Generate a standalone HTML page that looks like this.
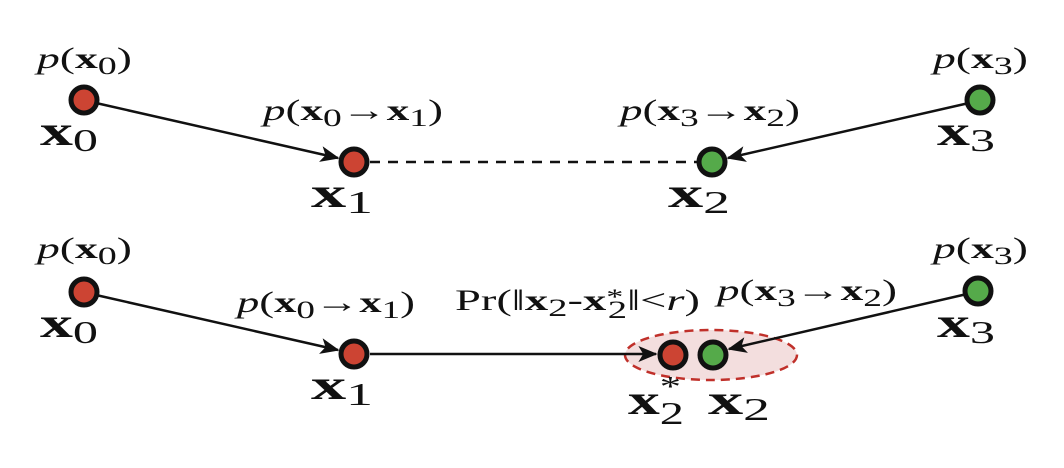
<!DOCTYPE html>
<html><head><meta charset="utf-8"><style>
html,body{margin:0;padding:0;background:#fff;}
svg{display:block}
text{font-family:"Liberation Serif","DejaVu Serif",serif;fill:#111;font-weight:normal;}
.l{font-size:30px}
.b{font-weight:bold}
.i{font-style:italic}
.big{font-size:42px;font-weight:bold}
</style></head><body>
<svg width="1064" height="468" viewBox="0 0 1064 468" xmlns="http://www.w3.org/2000/svg">
<defs>
<marker id="ah2" viewBox="0 0 12 10" refX="11" refY="5" markerWidth="20" markerHeight="16" markerUnits="userSpaceOnUse" orient="auto">
<path d="M0,0 L12,5 L0,10 L3,5 Z" fill="#111"/>
</marker>
</defs>
<!-- TOP -->
<line x1="96" y1="103" x2="338" y2="158" stroke="#111" stroke-width="2.5" marker-end="url(#ah2)"/>
<line x1="969" y1="103" x2="728" y2="158" stroke="#111" stroke-width="2.5" marker-end="url(#ah2)"/>
<line x1="370" y1="162" x2="697" y2="162" stroke="#111" stroke-width="2.5" stroke-dasharray="10,8"/>
<circle cx="84" cy="100" r="13" fill="#cc4433" stroke="#111" stroke-width="5"/>
<circle cx="354" cy="162" r="13" fill="#cc4433" stroke="#111" stroke-width="5"/>
<circle cx="712" cy="162" r="13" fill="#55aa4a" stroke="#111" stroke-width="5"/>
<circle cx="980" cy="100" r="13" fill="#55aa4a" stroke="#111" stroke-width="5"/>
<text class="l" x="37" y="68" textLength="95" lengthAdjust="spacingAndGlyphs"><tspan class="i">p</tspan>(<tspan class="b">x</tspan><tspan font-size="25" dy="6">0</tspan><tspan dy="-6">)</tspan></text>
<text class="l" x="933" y="68" textLength="95" lengthAdjust="spacingAndGlyphs"><tspan class="i">p</tspan>(<tspan class="b">x</tspan><tspan font-size="25" dy="6">3</tspan><tspan dy="-6">)</tspan></text>
<text class="l" x="263" y="120" textLength="180" lengthAdjust="spacingAndGlyphs"><tspan class="i">p</tspan>(<tspan class="b">x</tspan><tspan font-size="25" dy="6">0</tspan><tspan dy="-6">→</tspan><tspan class="b">x</tspan><tspan font-size="25" dy="6">1</tspan><tspan dy="-6">)</tspan></text>
<text class="l" x="620" y="120" textLength="180" lengthAdjust="spacingAndGlyphs"><tspan class="i">p</tspan>(<tspan class="b">x</tspan><tspan font-size="25" dy="6">3</tspan><tspan dy="-6">→</tspan><tspan class="b">x</tspan><tspan font-size="25" dy="6">2</tspan><tspan dy="-6">)</tspan></text>
<text class="big" x="40" y="145" textLength="58" lengthAdjust="spacingAndGlyphs">x<tspan font-weight="normal" font-size="32" dy="6">0</tspan></text>
<text class="big" x="937" y="145" textLength="58" lengthAdjust="spacingAndGlyphs">x<tspan font-weight="normal" font-size="32" dy="6">3</tspan></text>
<text class="big" x="311" y="207" textLength="62" lengthAdjust="spacingAndGlyphs">x<tspan font-weight="normal" font-size="32" dy="6">1</tspan></text>
<text class="big" x="668" y="207" textLength="62" lengthAdjust="spacingAndGlyphs">x<tspan font-weight="normal" font-size="32" dy="6">2</tspan></text>
<!-- BOTTOM -->
<ellipse cx="711" cy="355" rx="86" ry="25" fill="#f3dede" stroke="#c0302a" stroke-width="2.5" stroke-dasharray="9,6"/>
<line x1="96" y1="295" x2="338" y2="350" stroke="#111" stroke-width="2.5" marker-end="url(#ah2)"/>
<line x1="370" y1="354" x2="656" y2="354" stroke="#111" stroke-width="2.5" marker-end="url(#ah2)"/>
<line x1="967" y1="294" x2="729" y2="349" stroke="#111" stroke-width="2.5" marker-end="url(#ah2)"/>
<circle cx="84" cy="292" r="13" fill="#cc4433" stroke="#111" stroke-width="5"/>
<circle cx="354" cy="354" r="13" fill="#cc4433" stroke="#111" stroke-width="5"/>
<circle cx="673" cy="355" r="13" fill="#cc4433" stroke="#111" stroke-width="5"/>
<circle cx="713" cy="355" r="13" fill="#55aa4a" stroke="#111" stroke-width="5"/>
<circle cx="978" cy="291" r="13" fill="#55aa4a" stroke="#111" stroke-width="5"/>
<text class="l" x="37" y="258" textLength="95" lengthAdjust="spacingAndGlyphs"><tspan class="i">p</tspan>(<tspan class="b">x</tspan><tspan font-size="25" dy="6">0</tspan><tspan dy="-6">)</tspan></text>
<text class="l" x="933" y="258" textLength="95" lengthAdjust="spacingAndGlyphs"><tspan class="i">p</tspan>(<tspan class="b">x</tspan><tspan font-size="25" dy="6">3</tspan><tspan dy="-6">)</tspan></text>
<text class="l" x="237" y="312" textLength="178" lengthAdjust="spacingAndGlyphs"><tspan class="i">p</tspan>(<tspan class="b">x</tspan><tspan font-size="25" dy="6">0</tspan><tspan dy="-6">→</tspan><tspan class="b">x</tspan><tspan font-size="25" dy="6">1</tspan><tspan dy="-6">)</tspan></text>
<text class="l" x="717" y="300" textLength="180" lengthAdjust="spacingAndGlyphs"><tspan class="i">p</tspan>(<tspan class="b">x</tspan><tspan font-size="25" dy="6">3</tspan><tspan dy="-6">→</tspan><tspan class="b">x</tspan><tspan font-size="25" dy="6">2</tspan><tspan dy="-6">)</tspan></text>
<text class="l" x="455" y="310" textLength="245" lengthAdjust="spacingAndGlyphs">Pr(‖<tspan class="b">x</tspan><tspan font-size="25" dy="6">2</tspan><tspan dy="-6">-</tspan><tspan class="b">x</tspan><tspan font-size="22" dy="-6">*</tspan><tspan font-size="25" dx="-10" dy="14">2</tspan><tspan dy="-8">‖&lt;</tspan><tspan class="i">r</tspan>)</text>
<text class="big" x="628" y="414" textLength="56" lengthAdjust="spacingAndGlyphs">x<tspan font-weight="normal" font-size="28" dy="-18">*</tspan><tspan font-weight="normal" font-size="32" dx="-14" dy="28">2</tspan></text>
<text class="big" x="708" y="414" textLength="62" lengthAdjust="spacingAndGlyphs">x<tspan font-weight="normal" font-size="32" dy="6">2</tspan></text>
<text class="big" x="40" y="337" textLength="58" lengthAdjust="spacingAndGlyphs">x<tspan font-weight="normal" font-size="32" dy="6">0</tspan></text>
<text class="big" x="937" y="337" textLength="58" lengthAdjust="spacingAndGlyphs">x<tspan font-weight="normal" font-size="32" dy="6">3</tspan></text>
<text class="big" x="311" y="399" textLength="62" lengthAdjust="spacingAndGlyphs">x<tspan font-weight="normal" font-size="32" dy="6">1</tspan></text>
</svg>
</body></html>
